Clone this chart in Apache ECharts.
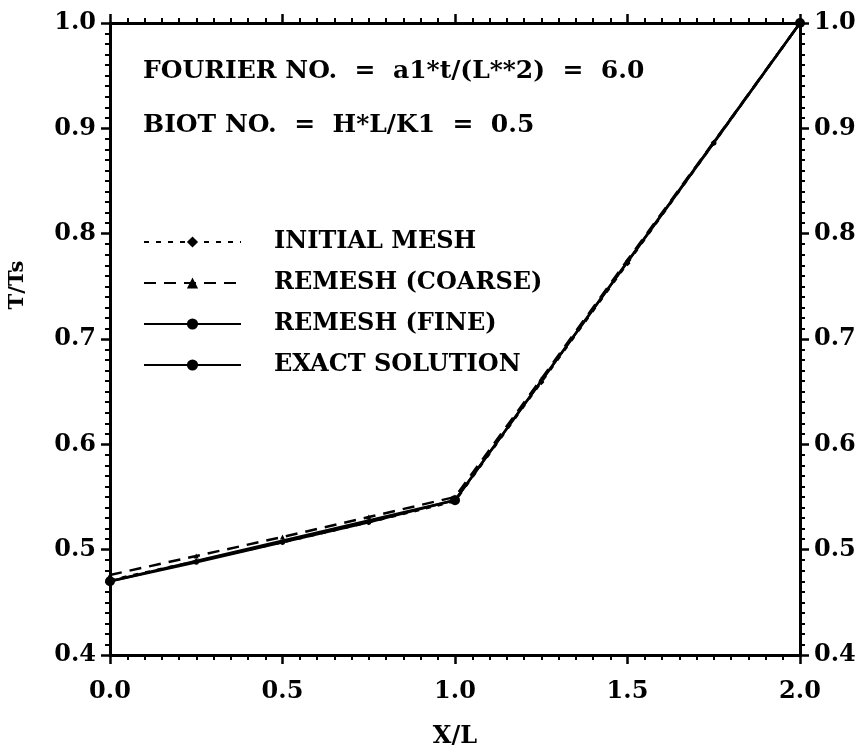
<!DOCTYPE html>
<html><head><meta charset="utf-8">
<script src="https://cdn.jsdelivr.net/npm/echarts@6/dist/echarts.min.js"></script>
<style>html,body{margin:0;padding:0;background:#fff}#c{width:868px;height:749px}</style>
</head><body><div id="c"></div>
<script>
var xNodes = [0.0, 0.25, 0.5, 0.75, 1.0, 1.25, 1.5, 1.75, 2.0];
var initialMesh = [0.471, 0.489, 0.507, 0.526, 0.546, 0.659, 0.772, 0.886, 1.0];
var remeshCoarse = [0.476, 0.494, 0.512, 0.531, 0.550, 0.662, 0.775, 0.887, 1.0];
var remeshFine = [0.470, 0.488, 0.507, 0.526, 0.547, 0.660, 0.773, 0.886, 1.0];
var exactX = [0.0, 1.0, 2.0];
var exactSol = [0.470, 0.547, 1.0];
var seriesNames = ['INITIAL MESH', 'REMESH (COARSE)', 'REMESH (FINE)', 'EXACT SOLUTION'];

function pairs(xs, ys){ return xs.map(function(x,i){return [x, ys[i]];}); }

var FONT = 'DejaVu Serif';
var chart = echarts.init(document.getElementById('c'));
var axisCommon = {
  axisLine:{show:true, onZero:false, lineStyle:{color:'#000', width:3}},
  axisTick:{show:true, inside:false, length:9, lineStyle:{color:'#000', width:2.5}},
  minorTick:{show:true, splitNumber:10, length:5, lineStyle:{color:'#000', width:2}},
  splitLine:{show:false}
};
function lbl(show, margin){ return {show:show, color:'#000', fontFamily:FONT, fontWeight:'bold', fontSize:24, margin:margin,
  formatter:function(v){return Number(v).toFixed(1);} }; }

chart.setOption({
  animation:false,
  backgroundColor:'#fff',
  grid:{left:110, right:68, top:23, bottom:94, containLabel:false, outerBoundsMode:'none'},
  xAxis:[
    Object.assign({type:'value', position:'bottom', min:0, max:2, interval:0.5,
      axisLabel:lbl(true, 25), name:'X/L', nameLocation:'middle', nameGap:70,
      nameTextStyle:{color:'#000', fontFamily:FONT, fontWeight:'bold', fontSize:24}}, axisCommon),
    Object.assign({type:'value', position:'top', min:0, max:2, interval:0.5, axisLabel:lbl(false, 8)}, axisCommon)
  ],
  yAxis:[
    Object.assign({type:'value', position:'left', min:0.4, max:1.0, interval:0.1, axisLabel:lbl(true, 14)}, axisCommon),
    Object.assign({type:'value', position:'right', min:0.4, max:1.0, interval:0.1, axisLabel:lbl(true, 14)}, axisCommon)
  ],
  legend:{
    orient:'vertical', left:143, top:230, padding:0, itemWidth:97, itemHeight:14, itemGap:17,
    data:seriesNames,
    textStyle:{color:'#000', fontFamily:FONT, fontWeight:'bold', fontSize:24, padding:[0,0,0,28]}
  },
  graphic:[
    {type:'text', left:143, top:59, style:{text:'FOURIER NO.  =  a1*t/(L**2)  =  6.0', fill:'#000', font:'bold 25px "DejaVu Serif"'}},
    {type:'text', left:143, top:113, style:{text:'BIOT NO.  =  H*L/K1  =  0.5', fill:'#000', font:'bold 25px "DejaVu Serif"'}},
    {type:'text', x:7, y:285, rotation:Math.PI/2, style:{text:'T/Ts', fill:'#000', font:'bold 21px "DejaVu Serif"', textAlign:'center', textVerticalAlign:'top'}}
  ],
  series:[
    {name:seriesNames[0], type:'line', data:pairs(xNodes, initialMesh), symbol:'diamond', symbolSize:6,
      itemStyle:{color:'#000'}, lineStyle:{color:'#000', width:2.5, type:[5,7]}},
    {name:seriesNames[1], type:'line', data:pairs(xNodes, remeshCoarse), symbol:'triangle', symbolSize:5,
      itemStyle:{color:'#000'}, lineStyle:{color:'#000', width:2.5, type:[12,8]}},
    {name:seriesNames[2], type:'line', data:pairs(xNodes, remeshFine), symbol:'circle', symbolSize:5,
      itemStyle:{color:'#000'}, lineStyle:{color:'#000', width:2.5}},
    {name:seriesNames[3], type:'line', data:pairs(exactX, exactSol), symbol:'circle', symbolSize:10,
      itemStyle:{color:'#000'}, lineStyle:{color:'#000', width:2.5}}
  ]
});
</script></body></html>
